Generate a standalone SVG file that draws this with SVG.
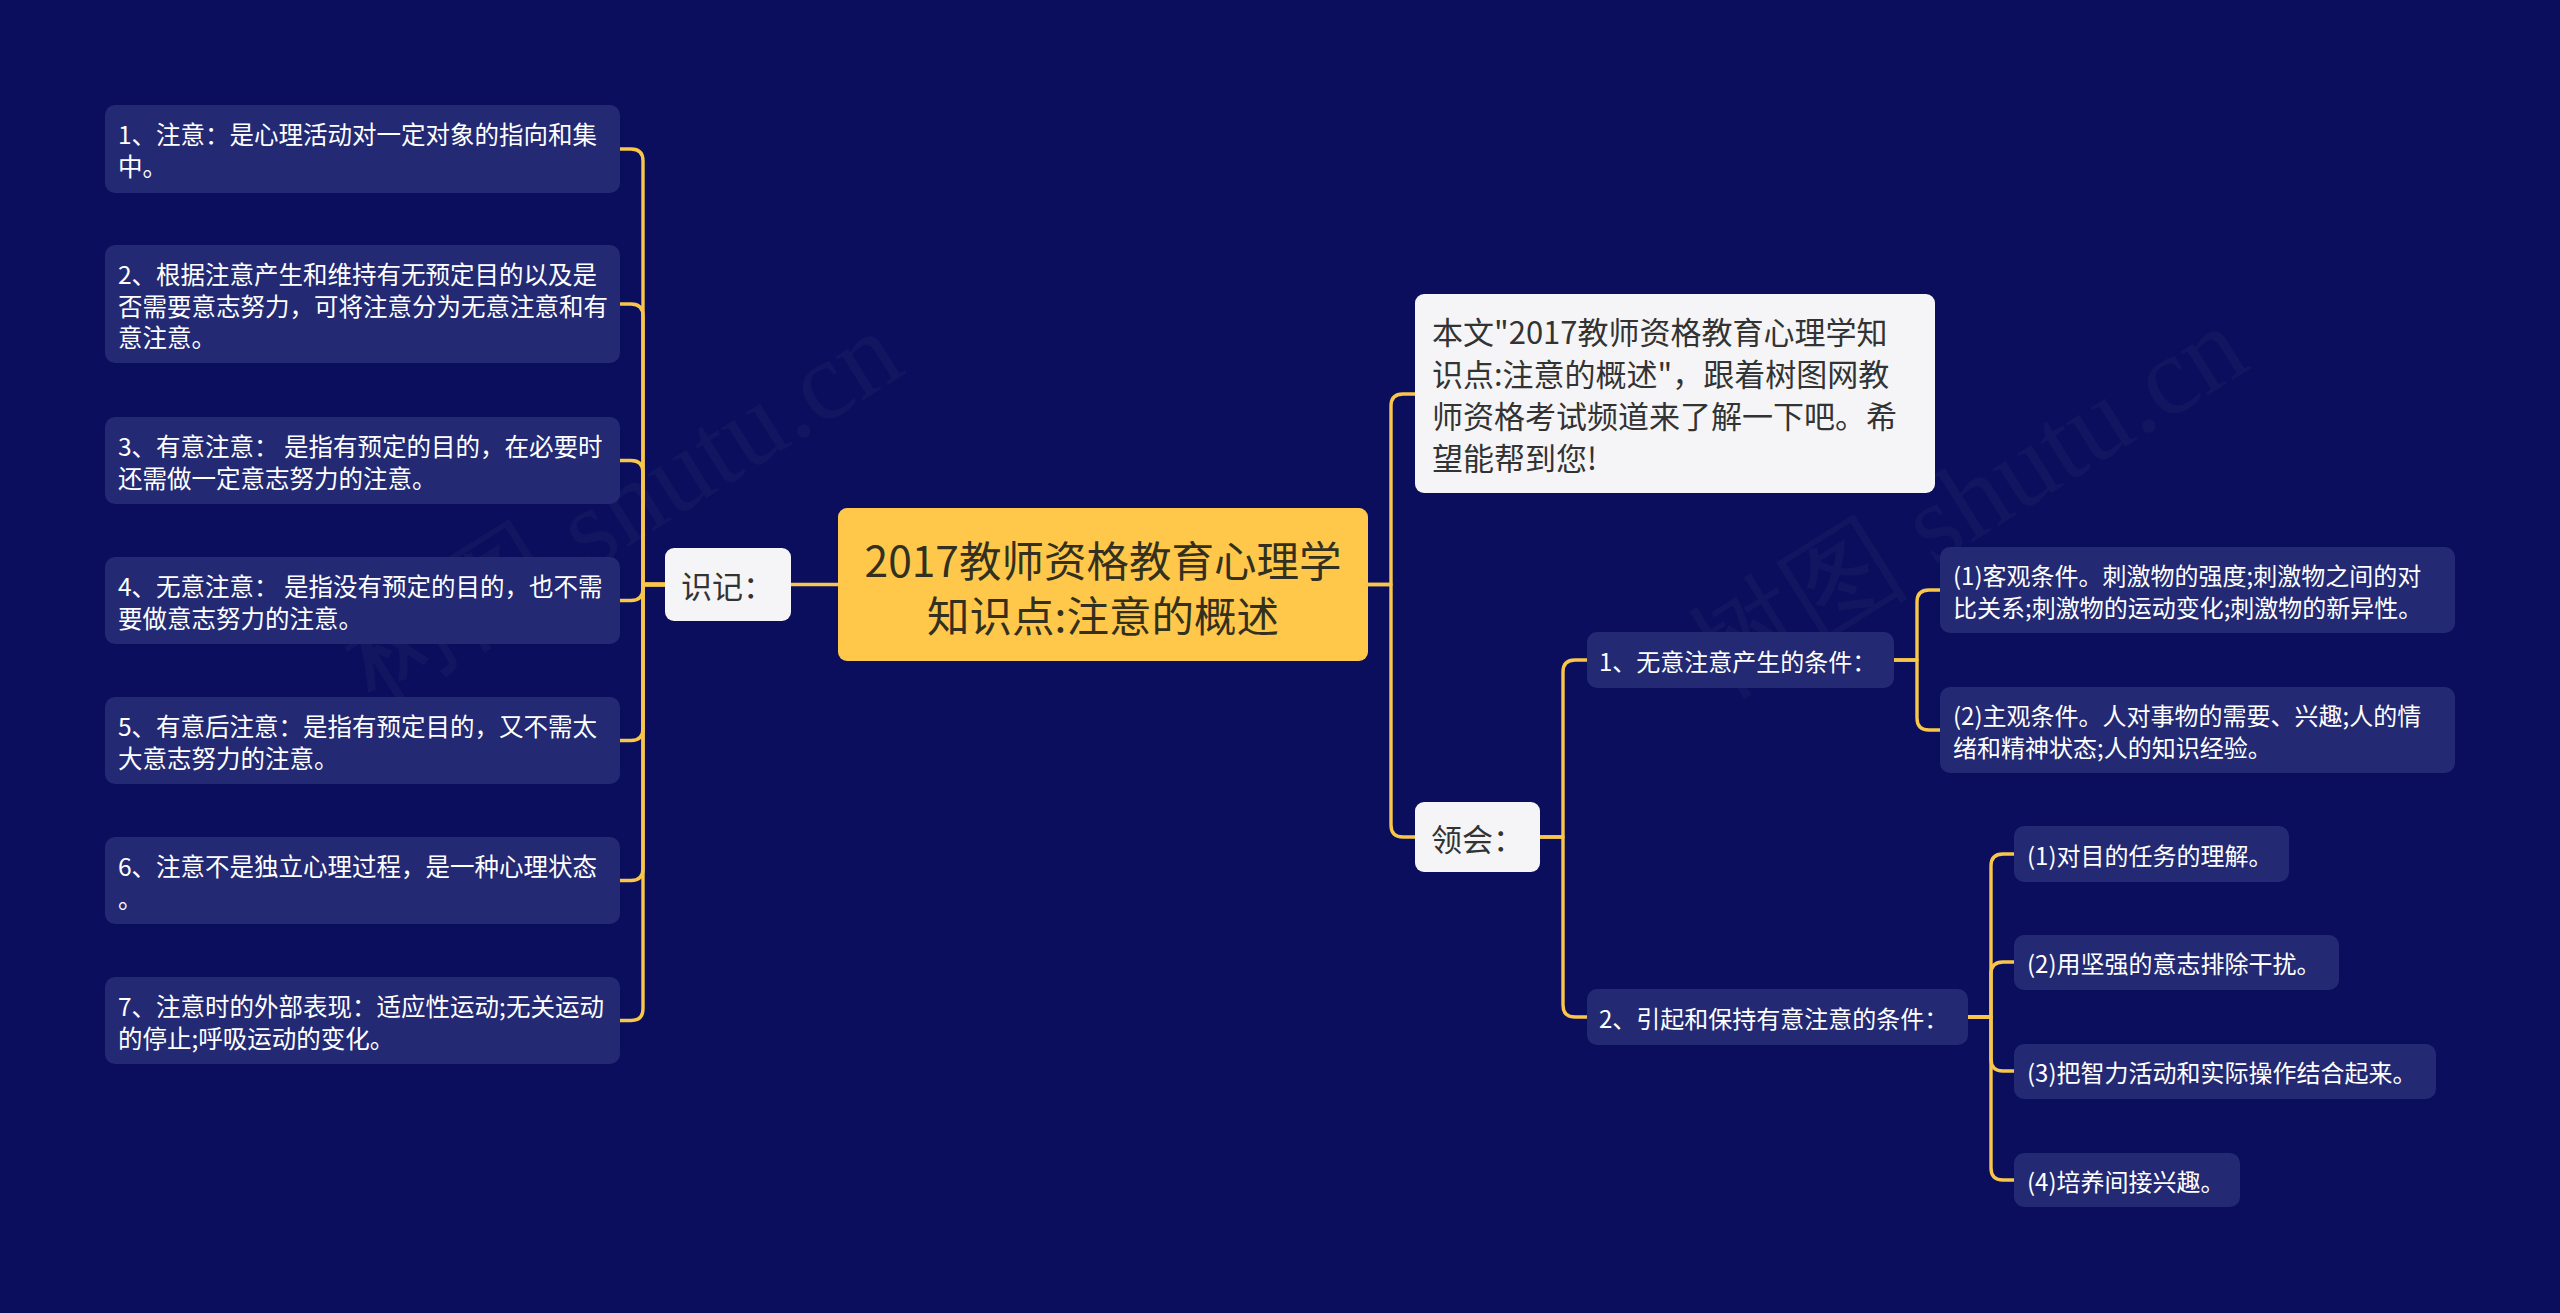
<svg xmlns="http://www.w3.org/2000/svg" width="2560" height="1313" viewBox="0 0 2560 1313">
<style>
.bg{fill:#0A0E5C}
.sub{fill:#232A73}
.t{font-family:"Noto Sans CJK SC","Noto Sans",sans-serif;dominant-baseline:central}
.tw{fill:#FFFFFF;font-size:24px}
.tl{fill:#FFFFFF;font-size:24.5px}
.lightbox{fill:#F5F5F7}
.tdark{fill:#333333}
.conn path{fill:none;stroke:#F8C64A;stroke-width:3.4;stroke-linecap:round;stroke-linejoin:round}
.wm{font-family:"Liberation Serif",serif;font-size:112px;fill:#FFFFFF;fill-opacity:0.035}
</style>
<rect class="bg" x="0" y="0" width="2560" height="1313"/>

<g id="watermarks">
<text class="wm" transform="translate(375,705) rotate(-32)">树图 shutu.cn</text>
<text class="wm" transform="translate(1720,700) rotate(-32)">树图 shutu.cn</text>
</g>

<g id="connectors" class="conn">
<path d="M665 584.5 H643 V161 Q643 149 631 149 H620"/>
<path d="M665 584.5 H643 V316 Q643 304 631 304 H620"/>
<path d="M665 584.5 H643 V472.5 Q643 460.5 631 460.5 H620"/>
<path d="M665 584.5 H643 V588.5 Q643 600.5 631 600.5 H620"/>
<path d="M665 584.5 H643 V728.5 Q643 740.5 631 740.5 H620"/>
<path d="M665 584.5 H643 V868.5 Q643 880.5 631 880.5 H620"/>
<path d="M665 584.5 H643 V1008.5 Q643 1020.5 631 1020.5 H620"/>
<path d="M791 584.5 H838"/>
<path d="M1368 584.5 H1391 V406 Q1391 394 1403 394 H1415"/>
<path d="M1368 584.5 H1391 V825 Q1391 837 1403 837 H1415"/>
<path d="M1540 837 H1563 V672 Q1563 660 1575 660 H1587"/>
<path d="M1540 837 H1563 V1005 Q1563 1017 1575 1017 H1587"/>
<path d="M1894 660 H1917 V602 Q1917 590 1929 590 H1940"/>
<path d="M1894 660 H1917 V718 Q1917 730 1929 730 H1940"/>
<path d="M1968 1017 H1991 V866 Q1991 854 2003 854 H2014"/>
<path d="M1968 1017 H1991 V974 Q1991 962 2003 962 H2014"/>
<path d="M1968 1017 H1991 V1059 Q1991 1071 2003 1071 H2014"/>
<path d="M1968 1017 H1991 V1168 Q1991 1180 2003 1180 H2014"/>
</g>

<g id="root">
<rect x="838" y="508" width="530" height="153" rx="9" fill="#FFC84B"/>
<text class="t" x="1103" y="558" font-size="42.5" fill="#33301F" text-anchor="middle">2017教师资格教育心理学</text>
<text class="t" x="1103" y="613" font-size="42.5" fill="#33301F" text-anchor="middle">知识点:注意的概述</text>
</g>

<g id="shiji">
<rect class="lightbox" x="665" y="548" width="126" height="73" rx="9"/>
<text class="t tdark" x="681" y="584.5" font-size="31">识记：</text>
</g>

<g id="linghui">
<rect class="lightbox" x="1415" y="802" width="125" height="70" rx="9"/>
<text class="t tdark" x="1431" y="837" font-size="31">领会：</text>
</g>

<g id="intro">
<rect class="lightbox" x="1415" y="294" width="520" height="199" rx="9"/>
<text class="t tdark" font-size="31"><tspan x="1432" y="330">本文"2017教师资格教育心理学知</tspan><tspan x="1432" y="372">识点:注意的概述"，跟着树图网教</tspan><tspan x="1432" y="414">师资格考试频道来了解一下吧。希</tspan><tspan x="1432" y="456">望能帮到您!</tspan></text>
</g>

<g id="l1">
<rect class="sub" x="105" y="105" width="515" height="88" rx="10"/>
<text class="t tl"><tspan x="118" y="133">1、注意：是心理活动对一定对象的指向和集</tspan><tspan x="118" y="165">中。</tspan></text>
</g>
<g id="l2">
<rect class="sub" x="105" y="245" width="515" height="118" rx="10"/>
<text class="t tl"><tspan x="118" y="273">2、根据注意产生和维持有无预定目的以及是</tspan><tspan x="118" y="304.5">否需要意志努力，可将注意分为无意注意和有</tspan><tspan x="118" y="336">意注意。</tspan></text>
</g>
<g id="l3">
<rect class="sub" x="105" y="417" width="515" height="87" rx="10"/>
<text class="t tl"><tspan x="118" y="444.5">3、有意注意： 是指有预定的目的，在必要时</tspan><tspan x="118" y="476.5">还需做一定意志努力的注意。</tspan></text>
</g>
<g id="l4">
<rect class="sub" x="105" y="557" width="515" height="87" rx="10"/>
<text class="t tl"><tspan x="118" y="584.5">4、无意注意： 是指没有预定的目的，也不需</tspan><tspan x="118" y="616.5">要做意志努力的注意。</tspan></text>
</g>
<g id="l5">
<rect class="sub" x="105" y="697" width="515" height="87" rx="10"/>
<text class="t tl"><tspan x="118" y="724.5">5、有意后注意：是指有预定目的，又不需太</tspan><tspan x="118" y="756.5">大意志努力的注意。</tspan></text>
</g>
<g id="l6">
<rect class="sub" x="105" y="837" width="515" height="87" rx="10"/>
<text class="t tl"><tspan x="118" y="864.5">6、注意不是独立心理过程，是一种心理状态</tspan><tspan x="118" y="896.5">。</tspan></text>
</g>
<g id="l7">
<rect class="sub" x="105" y="977" width="515" height="87" rx="10"/>
<text class="t tl"><tspan x="118" y="1004.5">7、注意时的外部表现：适应性运动;无关运动</tspan><tspan x="118" y="1036.5">的停止;呼吸运动的变化。</tspan></text>
</g>

<g id="r1">
<rect class="sub" x="1587" y="632" width="307" height="56" rx="10"/>
<text class="t tw" x="1599" y="660">1、无意注意产生的条件：</text>
</g>
<g id="r1a">
<rect class="sub" x="1940" y="547" width="515" height="86" rx="10"/>
<text class="t tw"><tspan x="1953" y="574">(1)客观条件。刺激物的强度;刺激物之间的对</tspan><tspan x="1953" y="606">比关系;刺激物的运动变化;刺激物的新异性。</tspan></text>
</g>
<g id="r1b">
<rect class="sub" x="1940" y="687" width="515" height="86" rx="10"/>
<text class="t tw"><tspan x="1953" y="714">(2)主观条件。人对事物的需要、兴趣;人的情</tspan><tspan x="1953" y="746">绪和精神状态;人的知识经验。</tspan></text>
</g>
<g id="r2">
<rect class="sub" x="1587" y="989" width="381" height="56" rx="10"/>
<text class="t tw" x="1599" y="1017">2、引起和保持有意注意的条件：</text>
</g>
<g id="r2a">
<rect class="sub" x="2014" y="826" width="275" height="56" rx="10"/>
<text class="t tw" x="2027" y="854">(1)对目的任务的理解。</text>
</g>
<g id="r2b">
<rect class="sub" x="2014" y="935" width="325" height="55" rx="10"/>
<text class="t tw" x="2027" y="962">(2)用坚强的意志排除干扰。</text>
</g>
<g id="r2c">
<rect class="sub" x="2014" y="1044" width="422" height="55" rx="10"/>
<text class="t tw" x="2027" y="1071">(3)把智力活动和实际操作结合起来。</text>
</g>
<g id="r2d">
<rect class="sub" x="2014" y="1153" width="226" height="54" rx="10"/>
<text class="t tw" x="2027" y="1180">(4)培养间接兴趣。</text>
</g>
</svg>
